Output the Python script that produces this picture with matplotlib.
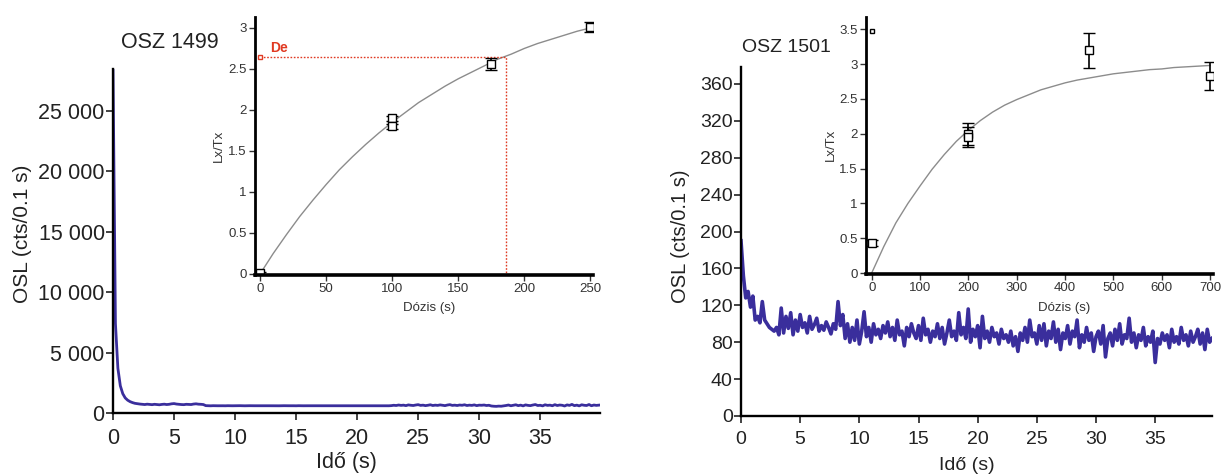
import matplotlib
matplotlib.use("Agg")
import matplotlib.pyplot as plt
from matplotlib.ticker import FuncFormatter
import numpy as np

plt.rcParams["font.family"] = ["Liberation Sans", "DejaVu Sans"]

# OSL decay curves, 0.2 s channels
dt = 0.2
osl_1499 = [28400, 7400, 3700, 2250, 1600, 1250, 1060, 940, 860, 800, 770,
            740, 720, 700, 730, 710, 690, 720, 700, 680, 710, 730, 700, 720, 760,
            780, 740, 720, 700, 690, 720, 710, 700, 740, 760, 730, 720, 700,
            610, 600, 595, 605, 600, 598, 602, 600, 596, 604, 600,
            598, 602, 600, 606, 600, 596, 600, 604, 598, 600, 602,
            600, 596, 600, 604, 600, 598, 602, 600, 596, 600, 604,
            598, 600, 602, 600, 596, 604, 600, 598, 602, 600, 600,
            596, 604, 600, 598, 602, 600, 596, 600, 604, 598, 600,
            602, 600, 596, 600, 604, 600, 598, 602, 600, 596, 604,
            600, 598, 602, 600, 606, 600, 596, 600, 604, 598, 610,
            640, 620, 660, 630, 650, 610, 670, 640, 620, 660, 690, 630, 650, 610,
            640, 680, 620, 650, 630, 670, 640, 610, 660, 690, 630, 650, 620, 660,
            640, 680, 620, 650, 630, 670, 610, 650, 640, 660, 620, 640,
            580, 560, 550, 570, 560, 590,
            620, 660, 600, 640, 680, 610, 650, 590, 670, 630, 610, 660, 700,
            620, 640, 590, 680, 630, 650, 600, 690, 620, 660, 640, 580, 670,
            630, 710, 610, 650, 590, 680, 640, 620, 700, 600, 660, 630, 650]

osl_1501 = [190, 152, 128, 135, 118, 130, 104, 108, 101, 124, 104, 100, 96, 94,
            92, 96, 88, 117, 90, 108, 95, 112, 88, 104, 92, 110, 96, 101, 90, 108,
            94, 99, 106, 92, 98, 93, 102, 96, 89, 100, 94, 124, 98, 110, 84, 100,
            80, 96, 82, 104, 78, 92, 113, 86, 96, 80, 100, 88, 94, 84, 98, 90, 102,
            86, 96, 82, 104, 88, 92, 76, 96, 86, 100, 90, 84, 98, 82, 106, 88, 94,
            80, 92, 86, 100, 84, 96, 78, 90, 104, 86, 92, 82, 112, 88, 96, 84, 116,
            80, 94, 86, 98, 74, 108, 84, 92, 80, 96, 86, 90, 78, 94, 84, 88, 80,
            92, 76, 86, 70, 90, 82, 96, 80, 104, 86, 90, 78, 98, 82, 100, 76, 92,
            84, 102, 80, 94, 72, 90, 84, 98, 78, 92, 86, 104, 74, 88, 80, 96, 82,
            90, 70, 86, 92, 78, 98, 64, 84, 90, 76, 94, 82, 100, 78, 88, 84, 106,
            80, 90, 74, 88, 82, 96, 76, 86, 80, 92, 58, 84, 78, 90, 82, 88, 74, 94,
            80, 86, 78, 96, 82, 88, 76, 92, 80, 86, 94, 78, 90, 72, 94, 80, 84]

# dose response, OSZ 1499
dose_1499 = [0, 100, 100, 175, 250]
lxtx_1499 = [0.01, 1.90, 1.80, 2.56, 3.01]
err_1499 = [0.02, 0.03, 0.03, 0.07, 0.06]
fit_dose_1499 = [0, 10, 20, 30, 40, 50, 60, 70, 80, 90, 100, 110, 120, 130,
                 140, 150, 160, 170, 180, 190, 200, 210, 220, 230, 240, 250]
fit_lxtx_1499 = [0, 0.25, 0.48, 0.70, 0.90, 1.09, 1.27, 1.43, 1.58, 1.72, 1.85,
                 1.97, 2.09, 2.19, 2.29, 2.38, 2.46, 2.54, 2.62, 2.68, 2.75,
                 2.81, 2.86, 2.91, 2.96, 3.00]
de_dose = 186
de_lxtx = 2.65

# dose response, OSZ 1501
dose_1501 = [0, 200, 200, 450, 700]
lxtx_1501 = [0.43, 2.00, 1.95, 3.20, 2.83]
err_1501 = [0.04, 0.16, 0.14, 0.25, 0.20]
natural_1501 = 3.47
fit_dose_1501 = [0, 25, 50, 75, 100, 125, 150, 175, 200, 225, 250, 275, 300,
                 325, 350, 375, 400, 425, 450, 475, 500, 525, 550, 575, 600,
                 625, 650, 675, 700]
fit_lxtx_1501 = [0, 0.38, 0.72, 1.00, 1.25, 1.49, 1.70, 1.89, 2.05, 2.19,
                 2.31, 2.41, 2.49, 2.56, 2.63, 2.68, 2.73, 2.77, 2.80, 2.83,
                 2.86, 2.88, 2.90, 2.92, 2.93, 2.95, 2.96, 2.97, 2.98]

line_col = "#3a2e9c"
de_col = "#e03a22"
txt_col = "#222222"
W, H = 1223, 474


def box(x0, x1, y_top, y_bot):
    # pixel box -> figure fraction
    return [x0 / W, 1 - y_bot / H, (x1 - x0) / W, (y_bot - y_top) / H]


def style_main(ax, size):
    for s in ["top", "right"]:
        ax.spines[s].set_visible(False)
    for s in ["left", "bottom"]:
        ax.spines[s].set_linewidth(1.7)
    ax.tick_params(labelsize=size, length=5, width=1.2, colors=txt_col)
    ax.tick_params(axis="x", pad=6)
    ax.tick_params(axis="y", pad=1)
    ax.set_facecolor("none")


def style_inset(ax):
    for s in ["top", "right"]:
        ax.spines[s].set_visible(False)
    ax.spines["left"].set_linewidth(2)
    ax.spines["bottom"].set_linewidth(2.6)
    ax.tick_params(labelsize=9.5, length=4, width=1, pad=2, colors="#333333")
    ax.set_facecolor("none")
    ax.yaxis.set_major_formatter(FuncFormatter(lambda v, p: f"{v:g}"))


def plot_osl():
    fig = plt.figure(figsize=(W / 100, H / 100), dpi=100)

    # OSZ 1499 decay curve
    ax1 = fig.add_axes(box(113, 600, 68.7, 413))
    t1 = np.arange(len(osl_1499)) * dt
    ax1.plot(t1, osl_1499, color=line_col, lw=2.0)
    ax1.set_xlim(0, 39.9)
    ax1.set_ylim(0, 28500)
    ax1.set_xticks(range(0, 40, 5))
    ax1.set_yticks(range(0, 25001, 5000))
    ax1.yaxis.set_major_formatter(FuncFormatter(lambda v, p: f"{v:,.0f}".replace(",", " ")))
    style_main(ax1, 15.5)
    ax1.set_xlabel("Idő (s)", fontsize=15.5, color=txt_col)
    ax1.set_ylabel("OSL (cts/0.1 s)", fontsize=15, color=txt_col)
    ax1.xaxis.set_label_coords(0.48, -0.113)
    ax1.yaxis.set_label_coords(-0.166, 0.52)
    fig.text(170 / W, 1 - 43 / H, "OSZ 1499", fontsize=15.5, ha="center", va="center", color=txt_col)

    # OSZ 1501 decay curve
    ax2 = fig.add_axes(box(741, 1212, 67.3, 416))
    t2 = np.arange(len(osl_1501)) * dt
    ax2.plot(t2, osl_1501, color=line_col, lw=2.6)
    ax2.set_xlim(0, 39.8)
    ax2.set_ylim(0, 378)
    ax2.set_xticks(range(0, 40, 5))
    ax2.set_yticks(range(0, 361, 40))
    style_main(ax2, 14)
    ax2.set_xlabel("Idő (s)", fontsize=14, color=txt_col)
    ax2.set_ylabel("OSL (cts/0.1 s)", fontsize=14.5, color=txt_col)
    ax2.xaxis.set_label_coords(0.48, -0.117)
    ax2.yaxis.set_label_coords(-0.108, 0.516)
    fig.text(786 / W, 1 - 47 / H, "OSZ 1501", fontsize=14, ha="center", va="center", color=txt_col)

    # dose response inset, OSZ 1499
    in1 = fig.add_axes(box(255, 593, 17.3, 274.8))
    in1.plot(fit_dose_1499, fit_lxtx_1499, color="#8c8c8c", lw=1.0)
    in1.plot([0, de_dose, de_dose], [de_lxtx, de_lxtx, 0], color=de_col, lw=1.0, ls=(0, (1.2, 1.2)))
    in1.plot([0], [de_lxtx], ls="none", marker="s", ms=3.5, mfc="white", mec=de_col, mew=1)
    in1.text(8, 2.76, "De", color=de_col, fontsize=10, fontweight="bold", va="center")
    in1.errorbar(dose_1499, lxtx_1499, yerr=err_1499, fmt="s", ms=6, mfc="white",
                 mec="black", mew=1, ecolor="black", elinewidth=1.2, capsize=4, capthick=1.2)
    in1.set_xlim(-3.8, 252)
    in1.set_ylim(-0.01, 3.13)
    in1.set_xticks(range(0, 251, 50))
    in1.set_yticks(np.arange(0, 3.01, 0.5))
    style_inset(in1)
    in1.set_xlabel("Dózis (s)", fontsize=9.5, color="#333333")
    in1.set_ylabel("Lx/Tx", fontsize=9.5, color="#333333")
    in1.xaxis.set_label_coords(0.515, -0.105)
    in1.yaxis.set_label_coords(-0.088, 0.5)

    # dose response inset, OSZ 1501
    in2 = fig.add_axes(box(866, 1213, 16.7, 273.5))
    in2.plot(fit_dose_1501, fit_lxtx_1501, color="#8c8c8c", lw=1.0)
    in2.plot([0], [natural_1501], ls="none", marker="s", ms=3.5, mfc="white", mec="black", mew=1)
    in2.errorbar(dose_1501, lxtx_1501, yerr=err_1501, fmt="s", ms=5.5, mfc="white",
                 mec="black", mew=1, ecolor="black", elinewidth=1.2, capsize=4, capthick=1.2)
    in2.set_xlim(-11.8, 706)
    in2.set_ylim(-0.007, 3.68)
    in2.set_xticks(range(0, 701, 100))
    in2.set_yticks(np.arange(0, 3.51, 0.5))
    style_inset(in2)
    in2.set_xlabel("Dózis (s)", fontsize=9.5, color="#333333")
    in2.set_ylabel("Lx/Tx", fontsize=9.5, color="#333333")
    in2.xaxis.set_label_coords(0.571, -0.11)
    in2.yaxis.set_label_coords(-0.084, 0.5)

    fig.savefig("out.png", dpi=100)


if __name__ == "__main__":
    plot_osl()
